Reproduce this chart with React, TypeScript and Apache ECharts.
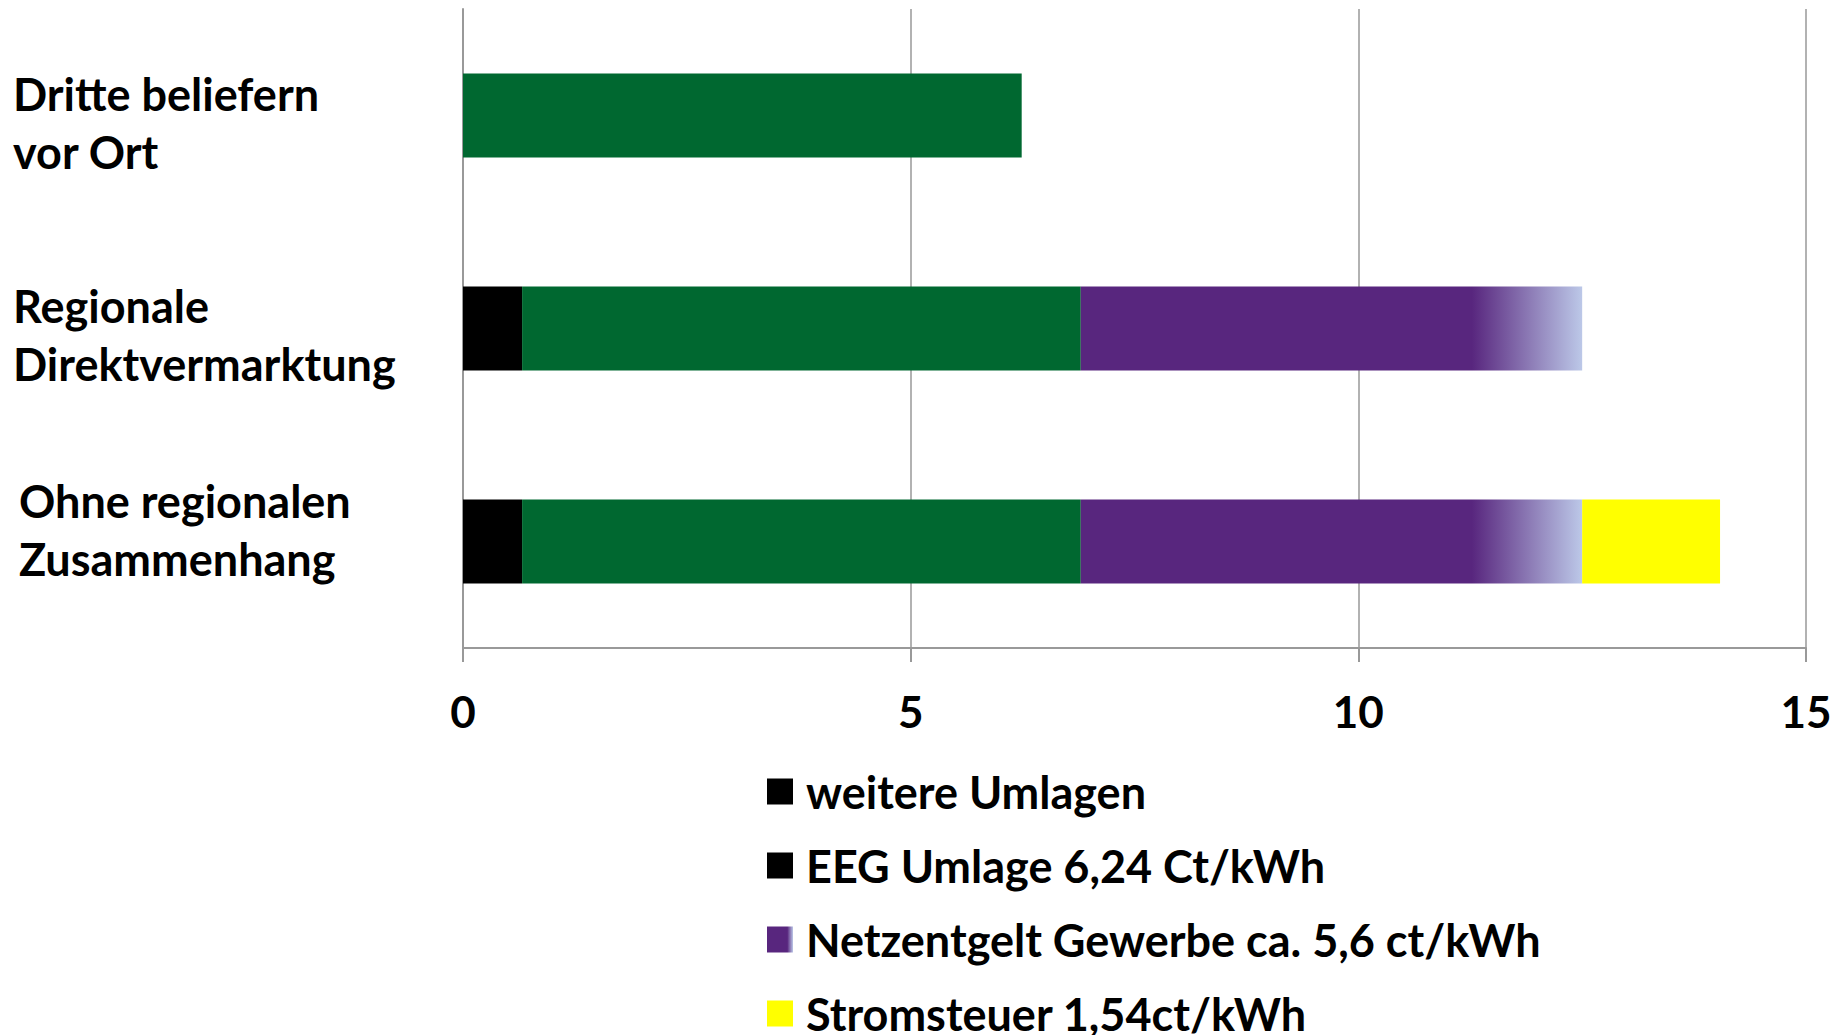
import React, { useEffect, useRef } from "react";
import * as echarts from "echarts";

const categories = ["Dritte beliefern\nvor Ort", "Regionale\nDirektvermarktung", "Ohne regionalen\nZusammenhang"];
const seriesNames = [
  "weitere Umlagen",
  "EEG Umlage 6,24 Ct/kWh",
  "Netzentgelt Gewerbe ca. 5,6 ct/kWh",
  "Stromsteuer 1,54ct/kWh",
];
const weitereUmlagen = [0, 0.66, 0.66];
const eegUmlage = [6.24, 6.24, 6.24];
const netzentgelt = [0, 5.6, 5.6];
const stromsteuer = [0, 0, 1.54];
const xTicks = { min: 0, max: 15, interval: 5 };

const FONT = "Lato";

export default function App() {
  const ref = useRef<HTMLDivElement>(null);
  useEffect(() => {
    if (!ref.current) return;
    const chart = echarts.init(ref.current, null, { renderer: "svg" });
    const purple = new echarts.graphic.LinearGradient(0, 0, 1, 0, [
      { offset: 0, color: "#58267E" },
      { offset: 0.78, color: "#58267E" },
      { offset: 1, color: "#BCC8E8" },
    ]);
    const bar = (name: string, data: number[], color: any) => ({
      name,
      type: "bar",
      stack: "total",
      data,
      barWidth: 84,
      itemStyle: { color },
    });
    const lbl = { fontFamily: FONT, fontWeight: "bold", fontSize: 45, lineHeight: 58, color: "#000", align: "left" };
    chart.setOption({
      animation: false,
      backgroundColor: "#ffffff",
      grid: { left: 463, right: 31, top: 9, bottom: 387, containLabel: false, outerBoundsMode: "none" },
      legend: {
        orient: "vertical",
        left: 767,
        top: 769,
        height: 320,
        padding: 0,
        icon: "rect",
        itemWidth: 26,
        itemHeight: 26,
        itemGap: 29,
        textStyle: {
          fontFamily: FONT,
          fontWeight: "bold",
          fontSize: 45,
          lineHeight: 42,
          color: "#000",
          padding: [0, 0, 0, 8],
        },
        data: [
          { name: seriesNames[0] },
          { name: seriesNames[1], itemStyle: { color: "#000000" } },
          { name: seriesNames[2] },
          { name: seriesNames[3] },
        ],
      },
      xAxis: {
        type: "value",
        min: xTicks.min,
        max: xTicks.max,
        interval: xTicks.interval,
        axisLine: { show: true, lineStyle: { color: "#999999", width: 2 } },
        axisTick: { show: true, length: 14, lineStyle: { color: "#999999", width: 2 } },
        splitLine: { show: true, lineStyle: { color: "#999999", width: 1.5 } },
        axisLabel: {
          fontFamily: FONT,
          fontWeight: "bold",
          fontSize: 44,
          color: "#000",
          margin: 41,
        },
      },
      yAxis: {
        type: "category",
        inverse: true,
        data: categories,
        axisLine: { show: true, lineStyle: { color: "#999999", width: 2 } },
        axisTick: { show: false },
        splitLine: { show: false },
        axisLabel: {
          align: "left",
          margin: 450,
          fontFamily: FONT,
          fontWeight: "bold",
          fontSize: 45,
          lineHeight: 58,
          color: "#000",
          formatter: (value: string, index: number) => {
            const lines = value.split("\n");
            if (index === 2) {
              return lines.map((l) => `{t3|${l}}`).join("\n") + "\n{s3| }";
            }
            const sp = index === 0 ? "s0" : "s1";
            return `{${sp}| }\n` + lines.map((l) => `{t|${l}}`).join("\n");
          },
          rich: {
            t: { ...lbl },
            t3: { ...lbl, padding: [0, 0, 0, 6] },
            s0: { ...lbl, fontSize: 10, lineHeight: 14 },
            s1: { ...lbl, fontSize: 10, lineHeight: 12 },
            s3: { ...lbl, fontSize: 10, lineHeight: 24 },
          },
        },
      },
      series: [
        bar(seriesNames[0], weitereUmlagen, "#000000"),
        bar(seriesNames[1], eegUmlage, "#006830"),
        bar(seriesNames[2], netzentgelt, purple),
        bar(seriesNames[3], stromsteuer, "#FFFF00"),
      ],
    });
    return () => chart.dispose();
  }, []);
  return <div ref={ref} style={{ width: 1837, height: 1035, position: "absolute", left: 0, top: 0 }} />;
}
